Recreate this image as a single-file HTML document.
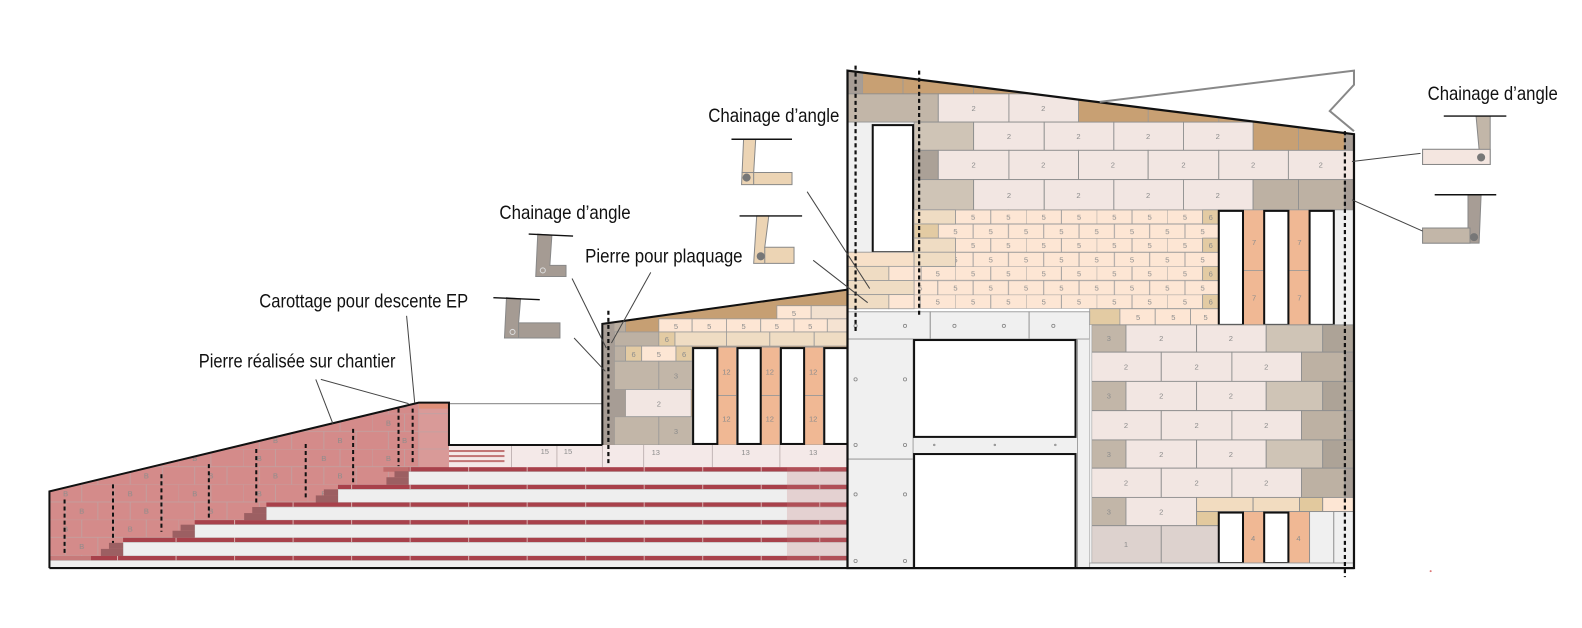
<!DOCTYPE html>
<html><head><meta charset="utf-8"><style>
html,body{margin:0;padding:0;background:#fff;width:1582px;height:628px;overflow:hidden}
svg{display:block}
.lb{font-family:"Liberation Sans",sans-serif;font-size:19px;fill:#111}
.n{font-family:"Liberation Sans",sans-serif;font-size:7.5px;fill:#8c8c8c;text-anchor:middle}
</style></head><body>
<svg width="1582" height="628" viewBox="0 0 1568 622.4" preserveAspectRatio="none" xmlns="http://www.w3.org/2000/svg">
<defs>
<pattern id="p5" x="947" y="208" width="70" height="28" patternUnits="userSpaceOnUse">
<rect x="0" y="0" width="70" height="28" fill="#fde6d4"/>
<g stroke="#9a9a9a" stroke-width="0.9" fill="none">
<line x1="0" y1="0" x2="70" y2="0"/><line x1="0" y1="14" x2="70" y2="14"/>
<line x1="0" y1="0" x2="0" y2="14"/><line x1="35" y1="0" x2="35" y2="14"/>
<line x1="17.5" y1="14" x2="17.5" y2="28"/><line x1="52.5" y1="14" x2="52.5" y2="28"/></g>
<text class="n" x="17.5" y="10">5</text><text class="n" x="52.5" y="10">5</text>
<text class="n" x="0" y="24">5</text><text class="n" x="35" y="24">5</text><text class="n" x="70" y="24">5</text>
</pattern>
<pattern id="pb" x="49" y="410" width="64" height="35" patternUnits="userSpaceOnUse">
<rect width="64" height="35" fill="#d48b8a"/>
<g stroke="#c0a2a2" stroke-width="0.8"><line x1="0" y1="0" x2="64" y2="0"/><line x1="0" y1="17.5" x2="64" y2="17.5"/>
<line x1="0" y1="0" x2="0" y2="17.5"/><line x1="32" y1="0" x2="32" y2="17.5"/>
<line x1="16" y1="17.5" x2="16" y2="35"/><line x1="48" y1="17.5" x2="48" y2="35"/></g>
<text class="n" x="16" y="12" fill="#a77">B</text><text class="n" x="32" y="29" fill="#a77">B</text>
</pattern>
<pattern id="pr" x="0" y="0" width="58" height="10" patternUnits="userSpaceOnUse">
<rect width="58" height="10" fill="#a8414b"/><line x1="0.5" y1="0" x2="0.5" y2="10" stroke="#d9b0b0" stroke-width="1"/>
</pattern>
<clipPath id="cm"><polygon points="840,70 1342,133 1342,563 840,563"/></clipPath>
<clipPath id="cmid"><polygon points="597,321 840,287 840,441 597,441"/></clipPath>
<clipPath id="cst"><polygon points="49,487 415,399 445,399 445,563 49,563"/></clipPath>
</defs>

<!-- ===== STAIR SECTION ===== -->
<g clip-path="url(#cst)"><rect x="49" y="399" width="400" height="170" fill="url(#pb)"/>
<rect x="415" y="399" width="30" height="64" fill="#d99a98"/>
<g stroke="#c0a2a2" stroke-width="0.8"><line x1="415" y1="410" x2="445" y2="410"/><line x1="415" y1="428" x2="445" y2="428"/><line x1="415" y1="445" x2="445" y2="445"/><line x1="415" y1="399" x2="415" y2="463"/></g>
<rect x="415" y="399" width="30" height="6" fill="#df8f78"/>
</g>
<rect x="445" y="399" width="152" height="42" fill="#fff"/>
<line x1="445" y1="400" x2="597" y2="400" stroke="#999" stroke-width="1.2"/>
<rect x="445" y="441" width="395" height="22" fill="#f4e9e8"/>
<g fill="#c27575"><rect x="445" y="446" width="55" height="2"/><rect x="445" y="451" width="55" height="2"/><rect x="445" y="456" width="55" height="2"/></g>
<g stroke="#b7aaaa" stroke-width="0.8"><line x1="507" y1="441" x2="507" y2="463"/><line x1="552" y1="441" x2="552" y2="463"/><line x1="597" y1="441" x2="597" y2="463"/><line x1="638" y1="441" x2="638" y2="463"/><line x1="706" y1="441" x2="706" y2="463"/><line x1="773" y1="441" x2="773" y2="463"/></g>
<text class="n" x="540" y="450">15</text><text class="n" x="563" y="450">15</text>
<text class="n" x="650" y="451">13</text><text class="n" x="739" y="451">13</text><text class="n" x="806" y="451">13</text>
<g>
<rect x="405" y="463" width="435" height="4.5" fill="url(#pr)"/><rect x="380" y="463" width="25" height="4.5" fill="#c06c6c"/>
<rect x="405" y="467.5" width="435" height="13" fill="#eeeeee" stroke="#bbb" stroke-width="0.6"/>
<rect x="335" y="480.5" width="505" height="4.5" fill="url(#pr)"/>
<rect x="335" y="485" width="505" height="13" fill="#eeeeee" stroke="#bbb" stroke-width="0.6"/>
<rect x="264" y="498" width="576" height="4.5" fill="url(#pr)"/>
<rect x="264" y="502.5" width="576" height="13" fill="#eeeeee" stroke="#bbb" stroke-width="0.6"/>
<rect x="193" y="515.5" width="647" height="4.5" fill="url(#pr)"/>
<rect x="193" y="520" width="647" height="13" fill="#eeeeee" stroke="#bbb" stroke-width="0.6"/>
<rect x="122" y="533" width="718" height="4.5" fill="url(#pr)"/>
<rect x="122" y="537.5" width="718" height="13.5" fill="#eeeeee" stroke="#bbb" stroke-width="0.6"/>
<rect x="90" y="551" width="750" height="4.5" fill="url(#pr)"/><rect x="49" y="551" width="41" height="4.5" fill="#c77a7a"/>
<rect x="49" y="555.5" width="791" height="7.5" fill="#eeeeee" stroke="#bbb" stroke-width="0.6"/>
<rect x="780" y="463" width="60" height="92" fill="#c87a7a" opacity="0.25"/>
</g>
<g fill="#9c5f62">
<rect x="391" y="467" width="14" height="6"/><rect x="383" y="473" width="22" height="7.5"/>
<rect x="321" y="485" width="14" height="6"/><rect x="313" y="491" width="22" height="7"/>
<rect x="250" y="502.5" width="14" height="6"/><rect x="242" y="508.5" width="22" height="7"/>
<rect x="179" y="520" width="14" height="6"/><rect x="171" y="526" width="22" height="7"/>
<rect x="108" y="538" width="14" height="6"/><rect x="100" y="544" width="22" height="7"/>
</g>
<g stroke="#111" stroke-width="2" stroke-dasharray="4,3">
<line x1="64" y1="495" x2="64" y2="550"/><line x1="112" y1="480" x2="112" y2="538"/>
<line x1="160" y1="470" x2="160" y2="527"/><line x1="207" y1="460" x2="207" y2="513"/>
<line x1="254" y1="445" x2="254" y2="500"/><line x1="303" y1="440" x2="303" y2="495"/>
<line x1="350" y1="425" x2="350" y2="480"/><line x1="395" y1="405" x2="395" y2="462"/>
<line x1="409" y1="405" x2="409" y2="460"/>
</g>
<polyline points="49,563 49,487 415,399 445,399 445,441 597,441" fill="none" stroke="#111" stroke-width="2"/>

<!-- ===== MIDDLE BLOCK ===== -->
<g clip-path="url(#cmid)">
<rect x="597" y="280" width="243" height="165" fill="#c69f73"/>
<g stroke="#999" stroke-width="0.8">
<rect x="770" y="303" width="34" height="13" fill="#fde6d4"/><rect x="804" y="303" width="36" height="13" fill="#f2e0cf"/>
<rect x="597" y="316" width="23" height="13" fill="#b9ada0"/>
<rect x="653" y="316" width="33" height="13" fill="#fde6d4"/><rect x="686" y="316" width="34" height="13" fill="#fde6d4"/><rect x="720" y="316" width="34" height="13" fill="#fde6d4"/><rect x="754" y="316" width="33" height="13" fill="#fde6d4"/><rect x="787" y="316" width="33" height="13" fill="#fde6d4"/><rect x="820" y="316" width="20" height="13" fill="#f5e3d2"/>
<rect x="609" y="329" width="44" height="14" fill="#bdb1a3"/><rect x="653" y="329" width="16" height="14" fill="#e3cba3"/><rect x="669" y="329" width="51" height="14" fill="#efdcc3"/><rect x="720" y="329" width="43" height="14" fill="#efdcc3"/><rect x="763" y="329" width="44" height="14" fill="#efdcc3"/><rect x="807" y="329" width="33" height="14" fill="#efdcc3"/>
<rect x="609" y="343" width="11" height="15" fill="#bdb1a3"/><rect x="620" y="343" width="16" height="15" fill="#e3cba3"/><rect x="636" y="343" width="34" height="15" fill="#fde6d4"/><rect x="670" y="343" width="16" height="15" fill="#e3cba3"/>
<rect x="609" y="358" width="44" height="28" fill="#c2b6a8"/><rect x="653" y="358" width="33" height="28" fill="#c2b6a8"/>
<rect x="620" y="386" width="65" height="27" fill="#f2e6e2"/>
<rect x="609" y="413" width="44" height="28" fill="#c2b6a8"/><rect x="653" y="413" width="33" height="28" fill="#c2b6a8"/>
<rect x="711" y="344" width="19" height="48" fill="#f0b894"/><rect x="711" y="392" width="19" height="49" fill="#f0b894"/>
<rect x="754" y="344" width="19" height="48" fill="#f0b894"/><rect x="754" y="392" width="19" height="49" fill="#f0b894"/>
<rect x="797" y="344" width="19" height="48" fill="#f0b894"/><rect x="797" y="392" width="19" height="49" fill="#f0b894"/>
</g>
<rect x="597" y="300" width="12" height="141" fill="#a79d95"/>
<rect x="597" y="386" width="23" height="27" fill="#a79d95"/>
<text class="n" x="787" y="313">5</text>
<text class="n" x="670" y="326">5</text><text class="n" x="703" y="326">5</text><text class="n" x="737" y="326">5</text><text class="n" x="770" y="326">5</text><text class="n" x="803" y="326">5</text>
<text class="n" x="661" y="339">6</text><text class="n" x="628" y="354">6</text><text class="n" x="653" y="354">5</text><text class="n" x="678" y="354">6</text>
<text class="n" x="670" y="375">3</text><text class="n" x="653" y="403">2</text><text class="n" x="670" y="430">3</text>
<text class="n" x="720" y="371">12</text><text class="n" x="720" y="418">12</text><text class="n" x="763" y="371">12</text><text class="n" x="763" y="418">12</text><text class="n" x="806" y="371">12</text><text class="n" x="806" y="418">12</text>
<g fill="#fff" stroke="#111" stroke-width="2"><rect x="687" y="345" width="24" height="95"/><rect x="731" y="345" width="23" height="95"/><rect x="774" y="345" width="23" height="95"/><rect x="817" y="345" width="23" height="95"/></g>
</g>
<polyline points="597,441 597,321 840,287" fill="none" stroke="#111" stroke-width="2"/>

<!-- ===== MAIN BUILDING ===== -->
<g clip-path="url(#cm)">
<rect x="840" y="60" width="502" height="150" fill="#c8a073"/>
<g stroke="#999" stroke-width="0.8" fill="none"><line x1="855" y1="60" x2="855" y2="93"/><line x1="895" y1="60" x2="895" y2="93"/><line x1="965" y1="60" x2="965" y2="93"/><line x1="1069" y1="93" x2="1069" y2="121"/><line x1="1138" y1="93" x2="1138" y2="121"/><line x1="1208" y1="93" x2="1208" y2="121"/><line x1="1287" y1="121" x2="1287" y2="149"/></g>
<rect x="840" y="60" width="15" height="33" fill="#a79d95"/>
<g stroke="#8f8f8f" stroke-width="0.9">
<rect x="840" y="93" width="90" height="28" fill="#c2b6a8"/>
<rect x="930" y="93" width="70" height="28" fill="#f2e6e2"/><rect x="1000" y="93" width="69" height="28" fill="#f2e6e2"/>
<rect x="906" y="121" width="59" height="28" fill="#cfc4b6"/>
<rect x="965" y="121" width="70" height="28" fill="#f2e6e2"/><rect x="1035" y="121" width="69" height="28" fill="#f2e6e2"/><rect x="1104" y="121" width="69" height="28" fill="#f2e6e2"/><rect x="1173" y="121" width="69" height="28" fill="#f2e6e2"/>
<rect x="1333" y="121" width="9" height="28" fill="#a79d95"/>
<rect x="906" y="149" width="24" height="29" fill="#aba197"/>
<rect x="930" y="149" width="70" height="29" fill="#f2e6e2"/><rect x="1000" y="149" width="69" height="29" fill="#f2e6e2"/><rect x="1069" y="149" width="69" height="29" fill="#f2e6e2"/><rect x="1138" y="149" width="70" height="29" fill="#f2e6e2"/><rect x="1208" y="149" width="69" height="29" fill="#f2e6e2"/><rect x="1277" y="149" width="65" height="29" fill="#f2e6e2"/>
<rect x="906" y="178" width="59" height="30" fill="#cfc4b6"/>
<rect x="965" y="178" width="70" height="30" fill="#f2e6e2"/><rect x="1035" y="178" width="69" height="30" fill="#f2e6e2"/><rect x="1104" y="178" width="69" height="30" fill="#f2e6e2"/><rect x="1173" y="178" width="69" height="30" fill="#f2e6e2"/>
<rect x="1242" y="178" width="45" height="30" fill="#bdb1a3"/><rect x="1287" y="178" width="46" height="30" fill="#bdb1a3"/><rect x="1333" y="178" width="9" height="30" fill="#a79d95"/>
</g>
<g>
<text class="n" x="965" y="110">2</text><text class="n" x="1034" y="110">2</text>
<text class="n" x="1000" y="138">2</text><text class="n" x="1069" y="138">2</text><text class="n" x="1138" y="138">2</text><text class="n" x="1207" y="138">2</text>
<text class="n" x="965" y="166">2</text><text class="n" x="1034" y="166">2</text><text class="n" x="1103" y="166">2</text><text class="n" x="1173" y="166">2</text><text class="n" x="1242" y="166">2</text><text class="n" x="1309" y="166">2</text>
<text class="n" x="1000" y="196">2</text><text class="n" x="1069" y="196">2</text><text class="n" x="1138" y="196">2</text><text class="n" x="1207" y="196">2</text>
</g>
<rect x="840" y="121" width="66" height="129" fill="#f0f0f0" stroke="#999" stroke-width="0.8"/>
<rect x="865" y="124" width="40" height="126" fill="#fff" stroke="#111" stroke-width="2"/>
<rect x="906" y="208" width="302" height="98" fill="url(#p5)"/>
<g stroke="#999" stroke-width="0.8">
<rect x="906" y="208" width="41" height="14" fill="#efdcc3"/><rect x="906" y="222" width="24" height="14" fill="#e3cba3"/><rect x="906" y="236" width="41" height="14" fill="#efdcc3"/>
<rect x="840" y="250" width="66" height="14" fill="#f7e0c8"/><rect x="906" y="250" width="41" height="14" fill="#efdcc3"/>
<rect x="840" y="264" width="41" height="14" fill="#efdcc3"/><rect x="881" y="264" width="25" height="14" fill="#fde6d4"/><rect x="906" y="264" width="7" height="14" fill="#fde6d4"/>
<rect x="840" y="278" width="66" height="14" fill="#efdcc3"/>
<rect x="840" y="292" width="41" height="14" fill="#efdcc3"/><rect x="881" y="292" width="25" height="14" fill="#fde6d4"/>
<rect x="1192" y="208" width="16" height="14" fill="#e3cba3"/><rect x="1192" y="236" width="16" height="14" fill="#e3cba3"/><rect x="1192" y="264" width="16" height="14" fill="#e3cba3"/><rect x="1192" y="292" width="16" height="14" fill="#e3cba3"/>
<rect x="1080" y="306" width="30" height="16" fill="#e3cba3"/><rect x="1110" y="306" width="35" height="16" fill="#fde6d4"/><rect x="1145" y="306" width="35" height="16" fill="#fde6d4"/><rect x="1180" y="306" width="28" height="16" fill="#fde6d4"/>
<rect x="1232" y="208" width="21" height="60" fill="#f0b894"/><rect x="1232" y="268" width="21" height="54" fill="#f0b894"/>
<rect x="1277" y="208" width="21" height="60" fill="#f0b894"/><rect x="1277" y="268" width="21" height="54" fill="#f0b894"/>
<rect x="1322" y="208" width="20" height="114" fill="#f0f0f0"/>
</g>
<text class="n" x="1200" y="218">6</text><text class="n" x="1200" y="246">6</text><text class="n" x="1200" y="274">6</text><text class="n" x="1200" y="302">6</text>
<text class="n" x="1128" y="317">5</text><text class="n" x="1163" y="317">5</text><text class="n" x="1195" y="317">5</text>
<text class="n" x="1243" y="243">7</text><text class="n" x="1243" y="298">7</text><text class="n" x="1288" y="243">7</text><text class="n" x="1288" y="298">7</text>
<g fill="#fff" stroke="#111" stroke-width="2"><rect x="1208" y="209" width="24" height="113"/><rect x="1253" y="209" width="24" height="113"/><rect x="1298" y="209" width="24" height="113"/></g>
<rect x="840" y="309" width="240" height="254" fill="#f0f0f0"/>
<g stroke="#999" stroke-width="0.9" fill="none">
<rect x="840" y="309" width="82" height="27"/><rect x="922" y="309" width="98" height="27"/><rect x="1020" y="309" width="60" height="27"/>
<rect x="840" y="336" width="65" height="119"/><rect x="840" y="455" width="65" height="108"/>
<line x1="1068" y1="336" x2="1068" y2="563"/></g>
<g fill="none" stroke="#888" stroke-width="0.8">
<circle cx="848" cy="323" r="1.6"/><circle cx="897" cy="323" r="1.6"/><circle cx="946" cy="323" r="1.6"/><circle cx="995" cy="323" r="1.6"/><circle cx="1044" cy="323" r="1.6"/>
<circle cx="848" cy="376" r="1.6"/><circle cx="897" cy="376" r="1.6"/><circle cx="848" cy="441" r="1.6"/><circle cx="897" cy="441" r="1.6"/>
<circle cx="848" cy="490" r="1.6"/><circle cx="897" cy="490" r="1.6"/><circle cx="848" cy="556" r="1.6"/><circle cx="897" cy="556" r="1.6"/>
<circle cx="926" cy="441" r="0.8"/><circle cx="986" cy="441" r="0.8"/><circle cx="1046" cy="441" r="0.8"/></g>
<rect x="906" y="337" width="160" height="96" fill="#fff" stroke="#111" stroke-width="2"/>
<rect x="906" y="450" width="160" height="115" fill="#fff" stroke="#111" stroke-width="2"/>
<g stroke="#8f8f8f" stroke-width="0.9">
<rect x="1080" y="322" width="262" height="236" fill="#f2e6e2"/>
<rect x="1082" y="322" width="34" height="27" fill="#c2b6a8"/><rect x="1116" y="322" width="70" height="27" fill="#f2e6e2"/><rect x="1186" y="322" width="69" height="27" fill="#f2e6e2"/><rect x="1255" y="322" width="56" height="27" fill="#cfc4b6"/><rect x="1311" y="322" width="31" height="27" fill="#ada397"/>
<rect x="1082" y="349" width="69" height="29" fill="#f2e6e2"/><rect x="1151" y="349" width="70" height="29" fill="#f2e6e2"/><rect x="1221" y="349" width="69" height="29" fill="#f2e6e2"/><rect x="1290" y="349" width="43" height="29" fill="#bdb1a3"/><rect x="1333" y="349" width="9" height="29" fill="#a79d95"/>
<rect x="1082" y="378" width="34" height="29" fill="#c2b6a8"/><rect x="1116" y="378" width="70" height="29" fill="#f2e6e2"/><rect x="1186" y="378" width="69" height="29" fill="#f2e6e2"/><rect x="1255" y="378" width="56" height="29" fill="#cfc4b6"/><rect x="1311" y="378" width="31" height="29" fill="#ada397"/>
<rect x="1082" y="407" width="69" height="29" fill="#f2e6e2"/><rect x="1151" y="407" width="70" height="29" fill="#f2e6e2"/><rect x="1221" y="407" width="69" height="29" fill="#f2e6e2"/><rect x="1290" y="407" width="43" height="29" fill="#bdb1a3"/><rect x="1333" y="407" width="9" height="29" fill="#a79d95"/>
<rect x="1082" y="436" width="34" height="28" fill="#c2b6a8"/><rect x="1116" y="436" width="70" height="28" fill="#f2e6e2"/><rect x="1186" y="436" width="69" height="28" fill="#f2e6e2"/><rect x="1255" y="436" width="56" height="28" fill="#cfc4b6"/><rect x="1311" y="436" width="31" height="28" fill="#ada397"/>
<rect x="1082" y="464" width="69" height="29" fill="#f2e6e2"/><rect x="1151" y="464" width="70" height="29" fill="#f2e6e2"/><rect x="1221" y="464" width="69" height="29" fill="#f2e6e2"/><rect x="1290" y="464" width="43" height="29" fill="#bdb1a3"/><rect x="1333" y="464" width="9" height="29" fill="#a79d95"/>
<rect x="1082" y="493" width="34" height="28" fill="#c2b6a8"/><rect x="1116" y="493" width="70" height="28" fill="#f2e6e2"/>
<rect x="1186" y="493" width="56" height="14" fill="#f2dcc0"/><rect x="1242" y="493" width="46" height="14" fill="#f2dcc0"/><rect x="1288" y="493" width="23" height="14" fill="#e2c99e"/><rect x="1311" y="493" width="31" height="14" fill="#fde6d4"/>
<rect x="1186" y="507" width="22" height="14" fill="#e2c99e"/>
<rect x="1082" y="521" width="69" height="37" fill="#ddd2ce"/><rect x="1151" y="521" width="57" height="37" fill="#ddd2ce"/>
<rect x="1232" y="507" width="21" height="51" fill="#f0b894"/><rect x="1277" y="507" width="21" height="51" fill="#f0b894"/>
<rect x="1298" y="507" width="24" height="51" fill="#f0f0f0"/><rect x="1322" y="507" width="20" height="51" fill="#f0f0f0"/>
</g>
<rect x="1080" y="322" width="2" height="241" fill="#f0f0f0"/>
<g>
<text class="n" x="1099" y="338">3</text><text class="n" x="1151" y="338">2</text><text class="n" x="1220" y="338">2</text>
<text class="n" x="1116" y="366">2</text><text class="n" x="1186" y="366">2</text><text class="n" x="1255" y="366">2</text>
<text class="n" x="1099" y="395">3</text><text class="n" x="1151" y="395">2</text><text class="n" x="1220" y="395">2</text>
<text class="n" x="1116" y="424">2</text><text class="n" x="1186" y="424">2</text><text class="n" x="1255" y="424">2</text>
<text class="n" x="1099" y="453">3</text><text class="n" x="1151" y="453">2</text><text class="n" x="1220" y="453">2</text>
<text class="n" x="1116" y="481">2</text><text class="n" x="1186" y="481">2</text><text class="n" x="1255" y="481">2</text>
<text class="n" x="1099" y="510">3</text><text class="n" x="1151" y="510">2</text>
<text class="n" x="1116" y="542">1</text><text class="n" x="1242" y="536">4</text><text class="n" x="1287" y="536">4</text>
</g>
<g fill="#fff" stroke="#111" stroke-width="2"><rect x="1208" y="508" width="24" height="50"/><rect x="1253" y="508" width="24" height="50"/></g>
<rect x="1080" y="558" width="262" height="5" fill="#f0f0f0" stroke="#999" stroke-width="0.8"/>
</g>
<polygon points="840,563 840,70 1342,133 1342,563" fill="none" stroke="#111" stroke-width="2.2"/>
<line x1="49" y1="563" x2="1342" y2="563" stroke="#111" stroke-width="2"/>
<polyline points="1090,101 1342,70 1342,84 1318,110 1342,130" fill="none" stroke="#888" stroke-width="2"/>
<g stroke="#111" stroke-width="2.2" stroke-dasharray="4,3">
<line x1="848" y1="65" x2="848" y2="330"/><line x1="911" y1="70" x2="911" y2="313"/>
<line x1="1333" y1="130" x2="1333" y2="572"/><line x1="603" y1="308" x2="603" y2="460"/>
</g>

<!-- ===== LABELS & ICONS ===== -->
<text class="lb" x="702" y="121" textLength="130" lengthAdjust="spacingAndGlyphs">Chainage d’angle</text>
<text class="lb" x="495" y="217" textLength="130" lengthAdjust="spacingAndGlyphs">Chainage d’angle</text>
<text class="lb" x="580" y="260" textLength="156" lengthAdjust="spacingAndGlyphs">Pierre pour plaquage</text>
<text class="lb" x="257" y="305" textLength="207" lengthAdjust="spacingAndGlyphs">Carottage pour descente EP</text>
<text class="lb" x="197" y="364" textLength="195" lengthAdjust="spacingAndGlyphs">Pierre réalisée sur chantier</text>
<text class="lb" x="1415" y="99" textLength="129" lengthAdjust="spacingAndGlyphs">Chainage d’angle</text>

<g stroke="#888" stroke-width="1">
<polygon points="737,138 749,138 747,171 785,171 785,183 735,183" fill="#ecd4b4"/>
<line x1="735" y1="171" x2="747" y2="171"/><line x1="747" y1="171" x2="747" y2="183"/>
<polygon points="750,214 762,214 758,245 787,245 787,261 747,261" fill="#ecd4b4"/>
<line x1="758" y1="245" x2="758" y2="261"/>
<polygon points="533,232 547,233 545,263 561,263 561,274 531,274" fill="#a59b93"/>
<polygon points="502,295 516,296 514,320 555,320 555,335 500,335" fill="#a59b93"/>
<line x1="514" y1="320" x2="514" y2="335"/>
<polygon points="1463,115 1477,115 1477,163 1410,163 1410,148 1466,148" fill="#c2b6a8"/>
<rect x="1410" y="148" width="67" height="15" fill="#f4e6e0"/>
<polygon points="1455,193 1468,193 1466,241 1410,241 1410,226 1455,226" fill="#a79d95"/>
<rect x="1410" y="226" width="47" height="15" fill="#c2b6a8"/>
</g>
<g fill="#777"><circle cx="740" cy="176" r="4"/><circle cx="754" cy="254" r="4"/><circle cx="1468" cy="156" r="4"/><circle cx="1461" cy="235" r="4"/></g>
<g fill="none" stroke="#ddd" stroke-width="1"><circle cx="538" cy="268" r="2.5"/><circle cx="508" cy="329" r="2.5"/></g>
<g stroke="#111" stroke-width="1.4">
<line x1="725" y1="138" x2="785" y2="138"/><line x1="733" y1="214" x2="795" y2="214"/>
<line x1="524" y1="232" x2="568" y2="234"/><line x1="489" y1="295" x2="535" y2="297"/>
<line x1="1431" y1="115" x2="1493" y2="115"/><line x1="1422" y1="193" x2="1483" y2="193"/>
</g>
<g stroke="#444" stroke-width="1" fill="none">
<line x1="800" y1="190" x2="862" y2="286"/><line x1="806" y1="258" x2="860" y2="300"/>
<line x1="567" y1="276" x2="601" y2="345"/><line x1="569" y1="335" x2="600" y2="368"/>
<line x1="645" y1="270" x2="606" y2="340"/>
<line x1="403" y1="313" x2="411" y2="399"/>
<line x1="313" y1="376" x2="330" y2="420"/><line x1="318" y1="376" x2="405" y2="400"/>
<line x1="1340" y1="160" x2="1408" y2="152"/><line x1="1340" y1="198" x2="1410" y2="229"/>
</g>
<circle cx="1418" cy="566" r="1" fill="#d77"/>
</svg>
</body></html>
